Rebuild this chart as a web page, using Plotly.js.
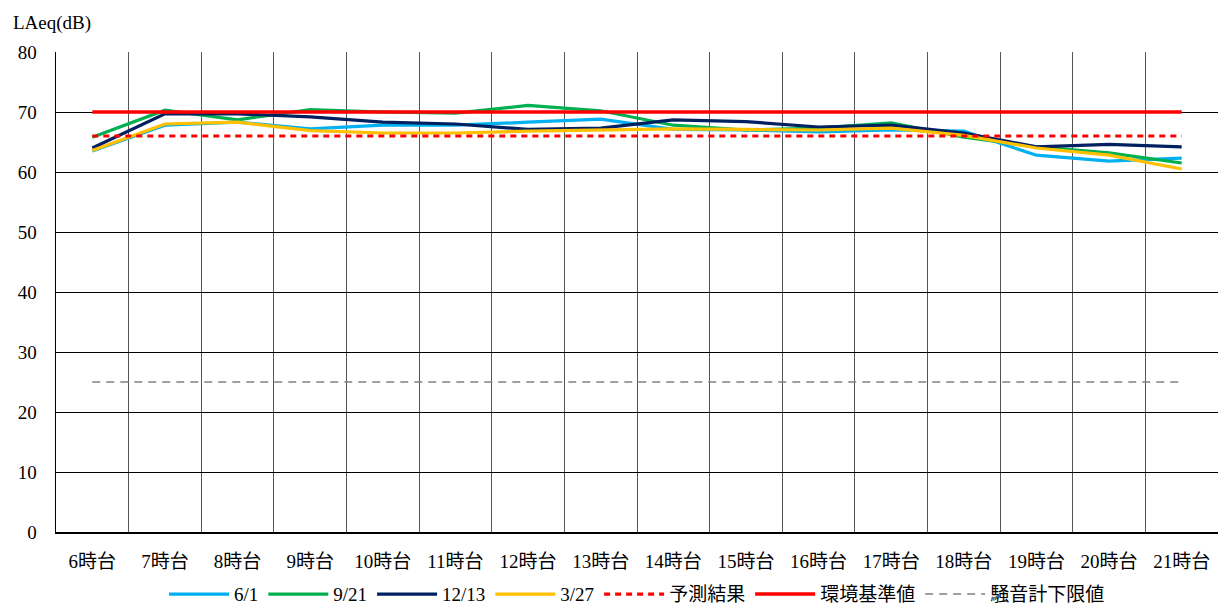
<!DOCTYPE html>
<html>
<head>
<meta charset="utf-8">
<script src="https://cdn.plot.ly/plotly-3.0.1.min.js"></script>
<style>html,body{margin:0;padding:0;background:#fff;}#chart{width:1219px;height:608px;}</style>
</head>
<body>
<div id="chart"></div>
<script>
const hours = ["6時台","7時台","8時台","9時台","10時台","11時台","12時台","13時台","14時台","15時台","16時台","17時台","18時台","19時台","20時台","21時台"];
const s0601 = [63.5,67.8,68.3,67.2,67.8,67.8,68.3,68.8,67.1,67.0,66.7,67.0,66.8,62.8,61.8,62.3];
const s0921 = [65.8,70.3,68.7,70.4,70.0,69.8,71.1,70.2,67.8,67.0,67.3,68.2,65.8,64.2,63.2,61.5];
const s1213 = [64.0,69.7,69.7,69.2,68.3,68.0,67.1,67.3,68.7,68.4,67.5,67.8,66.5,64.2,64.6,64.2];
const s0327 = [63.6,68.0,68.3,66.9,66.5,66.5,66.8,67.0,67.2,67.1,67.0,67.3,66.1,64.0,62.8,60.5];
const predicted = [66,66,66,66,66,66,66,66,66,66,66,66,66,66,66,66];
const standard = [70,70,70,70,70,70,70,70,70,70,70,70,70,70,70,70];
const meterLimit = [25,25,25,25,25,25,25,25,25,25,25,25,25,25,25,25];

const FONT = "Liberation Serif, Noto Sans CJK JP, serif";

const traces = [
  {name:"6/1", y:s0601, color:"#00B0F0", width:3.2, dash:"solid"},
  {name:"9/21", y:s0921, color:"#00B050", width:3.2, dash:"solid"},
  {name:"12/13", y:s1213, color:"#002060", width:3.2, dash:"solid"},
  {name:"3/27", y:s0327, color:"#FFC000", width:3.2, dash:"solid"},
  {name:"予測結果", y:predicted, color:"#FF0000", width:3.2, dash:"6px,5px"},
  {name:"環境基準値", y:standard, color:"#FF0000", width:3.6, dash:"solid"},
  {name:"騒音計下限値", y:meterLimit, color:"#808080", width:1.6, dash:"8px,6px"}
].map(t => ({
  type:"scatter", mode:"lines", x:hours, y:t.y, name:t.name,
  line:{color:t.color, width:t.width, dash:t.dash}
}));

const layout = {
  width:1219, height:608,
  margin:{l:56, r:1, t:52, b:76, autoexpand:false},
  paper_bgcolor:"#fff", plot_bgcolor:"#fff",
  font:{family:FONT, size:19, color:"#000"},
  showlegend:true,
  legend:{orientation:"h", x:0.5, xanchor:"center", y:-0.09, yanchor:"top",
          font:{family:FONT, size:19, color:"#000"}, itemwidth:60, tracegroupgap:0},
  xaxis:{type:"category", range:[-0.5,15.5], tickson:"boundaries",
         showgrid:true, gridcolor:"#555", gridwidth:1,
         showline:true, linecolor:"#000", linewidth:1.5,
         ticks:"", ticklabelstandoff:12, fixedrange:true,
         tickfont:{family:FONT, size:19, color:"#000"}},
  yaxis:{range:[0,80], dtick:10, tick0:0, showgrid:true, gridcolor:"#000", gridwidth:1,
         showline:true, linecolor:"#000", linewidth:1.5, zeroline:false,
         ticks:"", ticklabelstandoff:14, fixedrange:true,
         tickfont:{family:FONT, size:19, color:"#000"}},
  annotations:[{text:"LAeq(dB)", xref:"paper", yref:"paper", x:-0.039, y:1.0, xanchor:"left", yanchor:"bottom",
                yshift:16, showarrow:false, font:{family:FONT, size:19, color:"#000"}}]
};

Plotly.newPlot("chart", traces, layout, {displayModeBar:false, staticPlot:true});
</script>
</body>
</html>
